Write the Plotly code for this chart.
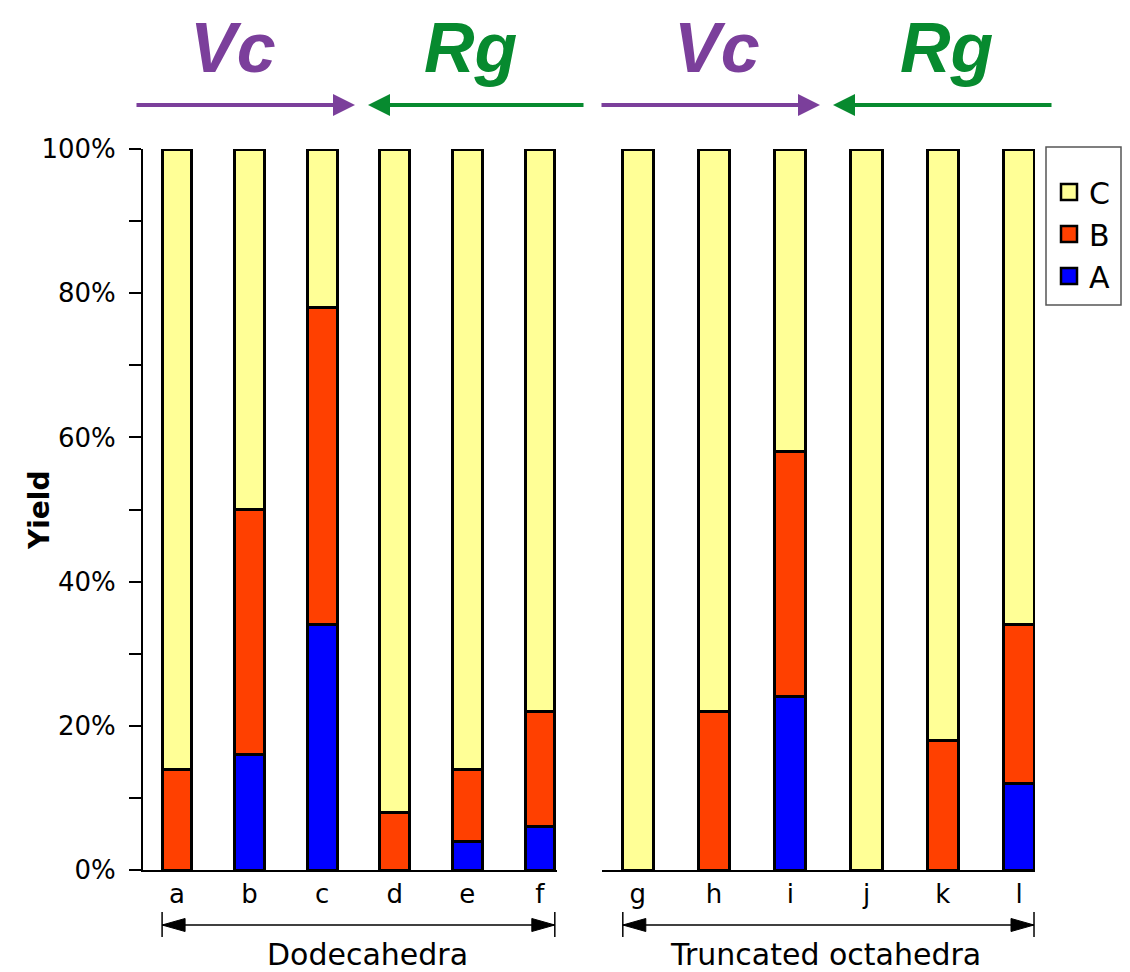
import plotly.graph_objects as go

# ---- data ----
categories_left = ["a", "b", "c", "d", "e", "f"]
categories_right = ["g", "h", "i", "j", "k", "l"]
group_labels = ["Dodecahedra", "Truncated octahedra"]
series_names = ["A", "B", "C"]
A_left = [0, 16, 34, 0, 4, 6]
B_left = [14, 34, 44, 8, 10, 16]
C_left = [86, 50, 22, 92, 86, 78]
A_right = [0, 0, 24, 0, 0, 12]
B_right = [0, 22, 34, 0, 18, 22]
C_right = [100, 78, 42, 100, 82, 66]
direction_labels = ["Vc", "Rg", "Vc", "Rg"]

# ---- style ----
FONT = "DejaVu Sans, Liberation Sans, Arial, sans-serif"
FONT_DIR = "Liberation Sans, Arial, Helvetica, sans-serif"
colors = {"A": "#0000FF", "B": "#FF4000", "C": "#FFFF96"}
purple = "#7B3F9B"
green = "#078A2F"
# page has an 8px body margin: figure is placed at (8, 8) on screen
W, H = 1122, 964
ML, MR, MT, MB = 135, 0, 141, 102
PW = W - ML - MR
PH = H - MT - MB


def px(xs):  # screen x -> paper fraction
    return (xs - 8 - ML) / PW


def py(ys):  # screen y -> paper fraction
    return (H - MB - (ys - 8)) / PH


fig = go.Figure()
data_left = {"A": A_left, "B": B_left, "C": C_left}
data_right = {"A": A_right, "B": B_right, "C": C_right}
for s in series_names:
    fig.add_trace(go.Bar(x=categories_left, y=data_left[s], name=s, xaxis="x", yaxis="y",
                         marker=dict(color=colors[s], line=dict(color="black", width=3)),
                         showlegend=False, hoverinfo="skip"))
    fig.add_trace(go.Bar(x=categories_right, y=data_right[s], name=s, xaxis="x2", yaxis="y",
                         marker=dict(color=colors[s], line=dict(color="black", width=3)),
                         showlegend=False, hoverinfo="skip"))
# legend entries (C, B, A from top)
for s in ["C", "B", "A"]:
    fig.add_trace(go.Scatter(x=[None], y=[None], mode="markers", name=s, xaxis="x", yaxis="y",
                             marker=dict(symbol="square", size=16, color=colors[s],
                                         line=dict(color="black", width=2.5))))

axis_common = dict(showline=True, linecolor="black", linewidth=2, ticks="", showgrid=False,
                   zeroline=False, tickfont=dict(family=FONT, size=26, color="black"),
                   type="category", fixedrange=True)
fig.update_layout(
    width=W, height=H,
    margin=dict(l=ML, r=MR, t=MT, b=MB),
    paper_bgcolor="white", plot_bgcolor="white",
    barmode="stack", bargap=0.59,
    font=dict(family=FONT, color="black"),
    xaxis=dict(domain=[0, px(557)], range=[-0.468, 5.235], anchor="y", **axis_common),
    xaxis2=dict(domain=[px(602), px(1035)], range=[-0.47, 5.21], anchor="y", **axis_common),
    yaxis=dict(range=[0, 100], dtick=20, ticksuffix="%", showline=True, linecolor="black",
               linewidth=2, ticks="outside", ticklen=12, tickwidth=2, tickcolor="black",
               showgrid=False, zeroline=False, ticklabelstandoff=8,
               tickfont=dict(family=FONT, size=26, color="black"),
               minor=dict(dtick=10, ticks="outside", ticklen=12, tickwidth=2, tickcolor="black"),
               anchor="x", fixedrange=True),
    legend=dict(x=px(1049), y=py(166), xanchor="left", yanchor="top", bgcolor="rgba(0,0,0,0)",
                borderwidth=0, traceorder="normal", font=dict(family=FONT, size=30, color="black"),
                itemwidth=30),
    showlegend=True,
)

shapes = []
# legend box
shapes.append(dict(type="rect", xref="paper", yref="paper", x0=px(1046), x1=px(1121),
                   y0=py(147), y1=py(305), line=dict(color="#555555", width=1.5)))

# bottom brackets
ybr = py(925)
for ax, x0, x1 in [("x", -0.205, 5.205), ("x2", -0.197, 5.197)]:
    shapes.append(dict(type="line", xref=ax, yref="paper", x0=x0, x1=x1, y0=ybr, y1=ybr,
                       line=dict(color="black", width=1.5)))
    for xe in (x0, x1):
        shapes.append(dict(type="line", xref=ax, yref="paper", x0=xe, x1=xe,
                           y0=py(912), y1=py(937), line=dict(color="black", width=1.5)))
    shapes.append(dict(type="path", xref=ax, yref="paper", xsizemode="pixel", ysizemode="pixel",
                       xanchor=x0, yanchor=ybr, path="M0,0 L23,6.5 L23,-6.5 Z",
                       fillcolor="black", line=dict(color="black", width=1)))
    shapes.append(dict(type="path", xref=ax, yref="paper", xsizemode="pixel", ysizemode="pixel",
                       xanchor=x1, yanchor=ybr, path="M0,0 L-23,6.5 L-23,-6.5 Z",
                       fillcolor="black", line=dict(color="black", width=1)))
fig.update_layout(shapes=shapes)

ann = []
ann.append(dict(text="<b>Yield</b>", xref="paper", yref="paper", x=px(39), y=py(510),
                xanchor="center", yanchor="middle", textangle=-90,
                showarrow=False, font=dict(family=FONT, size=28, color="black")))
ann.append(dict(text=group_labels[0], xref="x", yref="paper", x=2.62, y=py(954),
                xanchor="center", yanchor="middle", showarrow=False,
                font=dict(family=FONT, size=30, color="black")))
ann.append(dict(text=group_labels[1], xref="x2", yref="paper", x=2.46, y=py(954),
                xanchor="center", yanchor="middle", showarrow=False,
                font=dict(family=FONT, size=30, color="black")))

# top direction labels and arrows
label_x = [233, 470, 717, 946]
label_c = [purple, green, purple, green]
for t, xx, c in zip(direction_labels, label_x, label_c):
    ann.append(dict(text="<b><i>%s</i></b>" % t, xref="paper", yref="paper", x=px(xx), y=py(48),
                    xanchor="center", yanchor="middle",
                    showarrow=False, font=dict(family=FONT_DIR, size=70, color=c)))
arrows = [(135, 355, purple), (585, 368, green), (600, 820, purple), (1053, 833, green)]
for tail, head, c in arrows:
    ann.append(dict(text="", xref="paper", yref="paper", x=px(head), y=py(105),
                    ax=tail - head, ay=0, showarrow=True, arrowhead=2, arrowsize=1.1,
                    arrowwidth=4, arrowcolor=c, standoff=0, startstandoff=0))
fig.update_layout(annotations=ann)

fig.write_html("out.html")
